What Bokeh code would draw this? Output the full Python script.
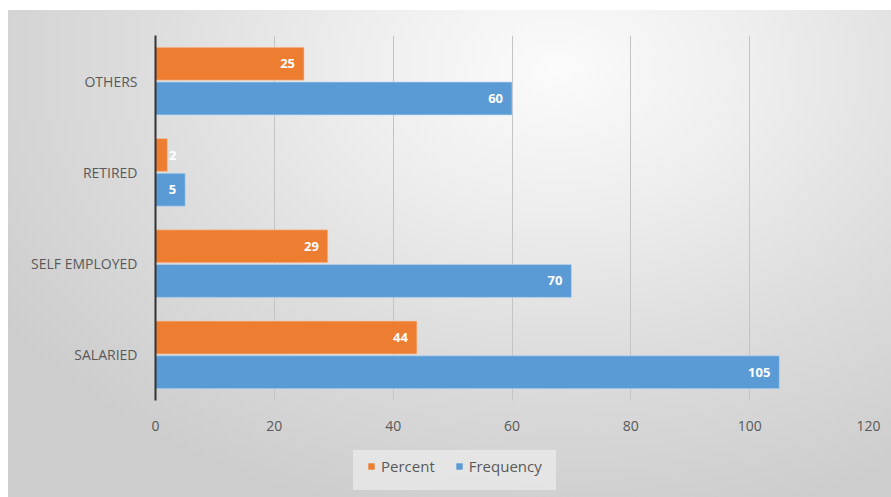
from bokeh.plotting import figure
from bokeh.layouts import column
from bokeh.models import (ColumnDataSource, FactorRange, Range1d, FixedTicker,
                          Legend, LegendItem, CDSView, BooleanFilter)
from bokeh.transform import dodge
from bokeh.core.properties import value
from bokeh.embed import file_html
from bokeh.resources import INLINE

# Occupation breakdown: share (%) and head count per category
categories = ["SALARIED", "SELF EMPLOYED", "RETIRED", "OTHERS"]
percent = [44, 29, 2, 25]
frequency = [105, 70, 5, 60]
x_ticks = [0, 20, 40, 60, 80, 100, 120]

ORANGE = "#ED7D31"
BLUE = "#5B9BD5"
TEXT = "#595959"
FONT = "Open Sans"

src = ColumnDataSource(dict(
    cat=categories,
    percent=percent,
    frequency=frequency,
    plabel=[str(v) for v in percent],
    flabel=[str(v) for v in frequency],
))

p = figure(
    width=883, height=440,
    y_range=FactorRange(*categories),
    x_range=Range1d(0, 120),
    output_backend="svg", toolbar_location=None,
    min_border_left=147, min_border_right=23,
    min_border_top=25, min_border_bottom=50,
)
p.border_fill_alpha = 0
p.background_fill_alpha = 0
p.outline_line_color = None

bar_h = 0.36
off = 0.19

r_pct = p.hbar(y=dodge("cat", off, range=p.y_range), left=0, right="percent",
               height=bar_h, fill_color=ORANGE, line_color="#f7c9a8",
               line_alpha=0.6, line_width=1, source=src)
r_frq = p.hbar(y=dodge("cat", -off, range=p.y_range), left=0, right="frequency",
               height=bar_h, fill_color=BLUE, line_color="#bcd7f0",
               line_alpha=0.6, line_width=1, source=src)

# value labels inside the bar ends; labels of very short bars spill past the end
def add_labels(col, lab, shift):
    vals = src.data[col]
    long_view = CDSView(filter=BooleanFilter([v > 3 for v in vals]))
    short_view = CDSView(filter=BooleanFilter([v <= 3 for v in vals]))
    for view, dx in ((long_view, -9), (short_view, 9)):
        p.text(x=col, y=dodge("cat", shift, range=p.y_range), text=lab,
               text_align="right", text_baseline="middle", x_offset=dx,
               text_color="white", text_font=value(FONT),
               text_font_size="13px", text_font_style="bold",
               source=src, view=view)

add_labels("percent", "plabel", off)
add_labels("frequency", "flabel", -off)

# axes
p.xaxis.ticker = FixedTicker(ticks=x_ticks)
p.xaxis.axis_line_color = None
p.xaxis.major_tick_line_color = None
p.xaxis.minor_tick_line_color = None
p.xaxis.major_label_standoff = 14
p.xaxis.major_label_text_color = TEXT
p.xaxis.major_label_text_font = FONT
p.xaxis.major_label_text_font_size = "14px"

p.yaxis.axis_line_color = "#333333"
p.yaxis.axis_line_width = 2
p.yaxis.major_tick_line_color = None
p.yaxis.minor_tick_line_color = None
p.yaxis.major_label_standoff = 12
p.yaxis.major_label_text_color = TEXT
p.yaxis.major_label_text_font = FONT
p.yaxis.major_label_text_font_size = "14px"

p.xgrid.grid_line_color = "#c4c4c4"
p.ygrid.grid_line_color = None

# legend strip underneath the chart; its swatch renderers sit outside the view
leg = figure(width=883, height=47, x_range=Range1d(0, 1), y_range=Range1d(0, 1),
             x_axis_type=None, y_axis_type=None,
             output_backend="svg", toolbar_location=None,
             min_border=0)
leg.border_fill_alpha = 0
leg.background_fill_alpha = 0
leg.outline_line_color = None
leg.grid.visible = False
swatch = ColumnDataSource(dict(y=[-5], right=[0]))
k_pct = leg.hbar(y="y", right="right", height=0.1, fill_color=ORANGE,
                 line_color=None, source=swatch)
k_frq = leg.hbar(y="y", right="right", height=0.1, fill_color=BLUE,
                 line_color=None, source=swatch)

legend = Legend(
    items=[LegendItem(label="Percent", renderers=[k_pct]),
           LegendItem(label="Frequency", renderers=[k_frq])],
    orientation="horizontal", location=(198, 7),
    glyph_width=8, glyph_height=8, label_standoff=6, spacing=20,
    padding=14, margin=0, label_height=10,
    label_text_color=TEXT, label_text_font=FONT, label_text_font_size="15px",
    background_fill_color="#ececec", background_fill_alpha=0.7,
    border_line_alpha=0,
)
leg.add_layout(legend, "center")

page = column(p, leg, spacing=0)
page.margin = (10, 0, 0, 8)
page.styles = {"background": "radial-gradient(ellipse 75% 95% at 62% 12%, "
                             "#fbfbfb 0%, #eeeeee 30%, #dddddd 62%, #cdcdcd 100%)"}

open("out.html", "w").write(file_html(page, INLINE))
